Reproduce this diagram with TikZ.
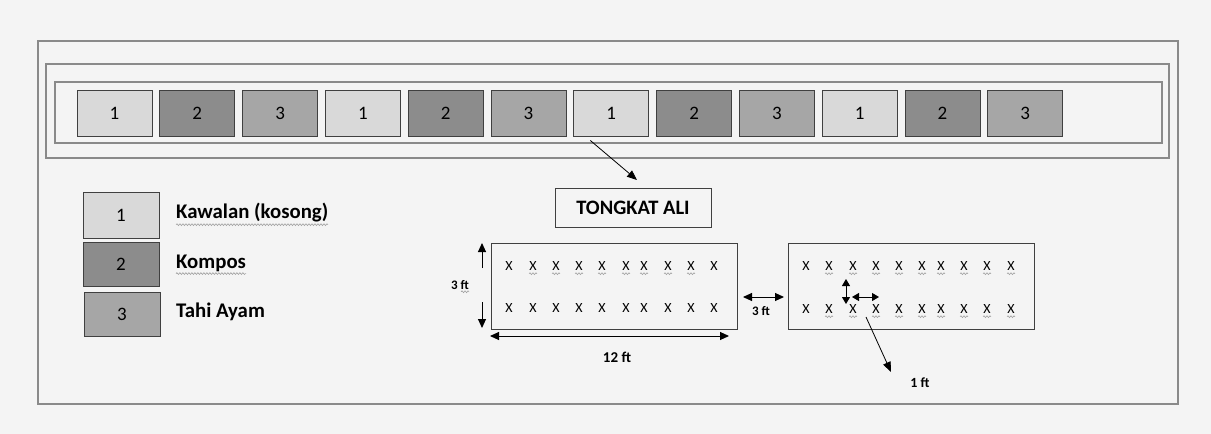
\documentclass[tikz,border=0pt]{standalone}
\usepackage{fontspec}
\setmainfont{Carlito}
\usetikzlibrary{arrows.meta,decorations.pathmorphing,calc}
\definecolor{bg}{HTML}{F4F4F4}
\definecolor{framec}{HTML}{8A8A8A}
\definecolor{c1}{HTML}{D9D9D9}
\definecolor{c2}{HTML}{8C8C8C}
\definecolor{c3}{HTML}{A6A6A6}
\definecolor{squig}{HTML}{A0A0A0}
\begin{document}
\begin{tikzpicture}[x=1pt,y=-1pt,
  frameline/.style={draw=framec, line width=1.6pt},
  plotbox/.style={draw=black!75, line width=0.9pt, minimum width=75pt, minimum height=46pt, inner sep=0pt, font=\fontsize{19}{19}\selectfont},
  legbox/.style={draw=black!75, line width=0.9pt, minimum width=76pt, minimum height=44pt, inner sep=0pt, font=\fontsize{19}{19}\selectfont},
  leglabel/.style={anchor=west, inner sep=0pt, font=\fontsize{20.8}{20.8}\selectfont\bfseries},
  bedbox/.style={draw=black!75, line width=0.9pt, minimum width=246pt, minimum height=86pt, inner sep=0pt},
  titlebox/.style={draw=black!75, line width=0.9pt, minimum width=156pt, minimum height=39pt, inner sep=0pt, font=\fontsize{20.5}{20.5}\selectfont\bfseries},
  plant/.style={inner sep=0pt, font=\fontsize{14}{14}\selectfont},
  dimlabel/.style={inner sep=0pt, font=\fontsize{13}{13}\selectfont\bfseries},
  dimarrow/.style={line width=1pt, {Triangle[length=9pt,width=8pt]}-{Triangle[length=9pt,width=8pt]}},
  onearrow/.style={line width=1pt, -{Triangle[length=9pt,width=8pt]}},
  thinarrow/.style={line width=0.8pt, -{Triangle[length=10pt,width=8pt]}},
  squiggle/.style={draw=squig, line width=0.6pt, decorate, decoration={snake, amplitude=0.9pt, segment length=3pt}}
]
\fill[bg] (0,0) rectangle (1211,434);
\useasboundingbox (0,0) rectangle (1211,434);

% frames
\draw[frameline] (38,41) rectangle (1178,404);
\draw[frameline] (46,64) rectangle (1169,158);
\draw[frameline] (55,82) rectangle (1162,143);

% plot row
\foreach \i/\t in {0/1,1/2,2/3,3/1,4/2,5/3,6/1,7/2,8/3,9/1,10/2,11/3}{
  \node[plotbox, fill=c\t] (b\i) at ({114.5+82.8*\i},113) {\t};
}

% legend
\node[legbox, fill=c1, minimum height=46pt] (l1) at (121,215) {1};
\node[legbox, fill=c2] (l2) at (121,264) {2};
\node[legbox, fill=c3] (l3) at (122,314) {3};
\node[leglabel] (t1) at (176,213) {Kawalan (kosong)};
\node[leglabel] (t2) at (176,263) {Kompos};
\node[leglabel] (t3) at (176,312) {Tahi Ayam};
\draw[squiggle] (t1.south west) ++(0,2) -- ++(152,0);
\draw[squiggle] (t2.south west) ++(0,2) -- ++(70,0);

% title
\node[titlebox] (title) at (633,207.5) {TONGKAT ALI};
\coordinate (titletip) at (637,180);
\draw[thinarrow] ($(b6.south)+(-21,4)$) -- (titletip);

% beds
\node[bedbox] (bedL) at (614,286) {};
\node[bedbox] (bedR) at (911,286) {};

\foreach \x [count=\k] in {509,533,556,579,602,626,644,668,691,714}{
  \node[plant] (lt\k) at (\x,266) {X};
  \node[plant] (lb\k) at (\x,308) {X};
}
\foreach \x [count=\k] in {806,829,853,876,899,922,941,964,987,1011}{
  \node[plant] (rt\k) at (\x,266) {X};
  \node[plant] (rb\k) at (\x,309) {X};
}
\foreach \k in {2,...,9}{
  \draw[squiggle] ($(lt\k.south)+(-4,3)$) -- ++(8,0);
}
\foreach \k in {2,...,10}{
  \draw[squiggle] ($(rt\k.south)+(-4,3)$) -- ++(8,0);
  \draw[squiggle] ($(rb\k.south)+(-4,3)$) -- ++(8,0);
}

% left dimension: 3 ft (vertical)
\coordinate (vu0) at (482,268);
\coordinate (vu1) at (482,243);
\coordinate (vd0) at (482,302);
\coordinate (vd1) at (482,328);
\draw[onearrow] (vu0) -- (vu1);
\draw[onearrow] (vd0) -- (vd1);
\node[dimlabel] (h3ft) at (460,285) {3 ft};
\draw[squiggle] ($(h3ft.south east)+(-8,2)$) -- ++(8,0);

% 12 ft
\coordinate (w0) at (490,336);
\coordinate (w1) at (729,336);
\draw[dimarrow] (w0) -- (w1);
\node[dimlabel, font=\fontsize{15}{15}\selectfont\bfseries] (w12) at (617,357) {12 ft};

% gap 3 ft
\coordinate (g0) at (743,297);
\coordinate (g1) at (784,297);
\draw[dimarrow] (g0) -- (g1);
\node[dimlabel] (g3ft) at (761,311) {3 ft};

% spacing arrows inside right bed
\coordinate (sv0) at (846,279);
\coordinate (sv1) at (846,304);
\draw[line width=1pt, {Triangle[length=7pt,width=8pt]}-{Triangle[length=7pt,width=8pt]}] (sv0) -- (sv1);
\coordinate (sh0) at (852,297);
\coordinate (sh1) at (879,297);
\draw[line width=1pt, {Triangle[length=7pt,width=8pt]}-{Triangle[length=7pt,width=8pt]}] (sh0) -- (sh1);

% 1 ft
\node[dimlabel, font=\fontsize{14}{14}\selectfont\bfseries] (one) at (920,383) {1 ft};
\coordinate (o0) at (866,317);
\coordinate (o1) at (891,372);
\draw[thinarrow] (o0) -- (o1);
\end{tikzpicture}
\end{document}
